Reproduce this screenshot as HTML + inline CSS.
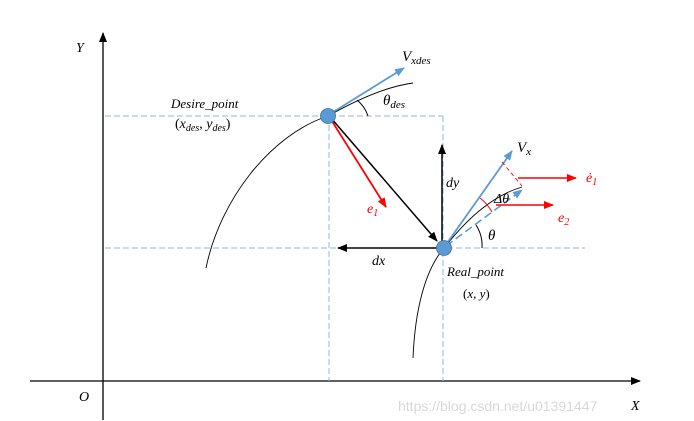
<!DOCTYPE html>
<html><head><meta charset="utf-8"><style>
html,body{margin:0;padding:0;background:#fff;width:694px;height:421px;overflow:hidden}
text{font-family:"Liberation Serif",serif;font-style:italic}
</style></head><body>
<svg width="694" height="421" viewBox="0 0 694 421">
<defs>
<marker id="ak" markerWidth="10" markerHeight="8" refX="9" refY="4" orient="auto" markerUnits="userSpaceOnUse"><path d="M0,0 L10,4 L0,8 z" fill="#000"/></marker>
<marker id="ab" markerWidth="10" markerHeight="8" refX="9" refY="4" orient="auto" markerUnits="userSpaceOnUse"><path d="M0,0 L10,4 L0,8 z" fill="#5b9bd5"/></marker>
<marker id="ar" markerWidth="10" markerHeight="8" refX="9" refY="4" orient="auto" markerUnits="userSpaceOnUse"><path d="M0,0 L10,4 L0,8 z" fill="#f00"/></marker>
</defs>
<!-- axes -->
<line x1="30" y1="381" x2="640" y2="381" stroke="#000" stroke-width="1.3" marker-end="url(#ak)"/>
<line x1="103" y1="420" x2="103" y2="33" stroke="#000" stroke-width="1.3" marker-end="url(#ak)"/>
<text x="76" y="52" font-size="14">Y</text>
<text x="79" y="401" font-size="14">O</text>
<text x="398" y="411" font-size="14" fill="#d8d8d8" style="font-family:'Liberation Sans',sans-serif;font-style:normal">https://blog.csdn.net/u01391447</text>
<text x="631" y="410" font-size="14">X</text>
<!-- dashed guides -->
<g stroke="#8fb8e0" stroke-width="1" stroke-dasharray="6,3" fill="none">
<line x1="105" y1="116" x2="443" y2="116"/>
<line x1="443" y1="116" x2="443" y2="381"/>
<line x1="329" y1="116" x2="329" y2="381"/>
<line x1="105" y1="248" x2="585" y2="248"/>
</g>
<!-- curves -->
<path d="M206,268 C220,200 270,135 328,116 C360,98 390,86 413,83" stroke="#000" fill="none" stroke-width="0.9"/>
<path d="M413,358 C415,310 425,270 444,248 C470,215 495,195 522,187" stroke="#000" fill="none" stroke-width="0.9"/>
<!-- arrows -->
<line x1="330" y1="114" x2="404" y2="68" stroke="#5b9bd5" stroke-width="1.8" marker-end="url(#ab)"/>
<path d="M357,100 A35,35 0 0 1 368,116" stroke="#000" fill="none"/>
<line x1="330" y1="118" x2="386" y2="207" stroke="#f00" stroke-width="1.8" marker-end="url(#ar)"/>
<line x1="331" y1="118" x2="437" y2="241" stroke="#000" stroke-width="1.5" marker-end="url(#ak)"/>
<line x1="442" y1="247" x2="442" y2="145" stroke="#000" stroke-width="1.5" marker-end="url(#ak)"/>
<line x1="438" y1="248" x2="338" y2="248" stroke="#000" stroke-width="1.5" marker-end="url(#ak)"/>
<line x1="445" y1="246" x2="512" y2="151" stroke="#5b9bd5" stroke-width="1.8" marker-end="url(#ab)"/>
<line x1="446" y1="246" x2="522" y2="190" stroke="#5b9bd5" stroke-width="1.6" stroke-dasharray="8,4" marker-end="url(#ab)"/>
<line x1="502" y1="162" x2="522" y2="186" stroke="#f00" stroke-width="0.9" stroke-dasharray="4,3"/>
<path d="M480,198 A45,45 0 0 1 492,212" stroke="#f00" fill="none"/>
<path d="M476,225 A38,38 0 0 1 482,248" stroke="#000" fill="none"/>
<line x1="518" y1="178" x2="576" y2="178" stroke="#f00" stroke-width="1.6" marker-end="url(#ar)"/>
<line x1="496" y1="205" x2="553" y2="205" stroke="#f00" stroke-width="1.6" marker-end="url(#ar)"/>
<!-- points -->
<circle cx="328" cy="116" r="7.5" fill="#5b9bd5" stroke="#41719c" stroke-width="0.8"/>
<circle cx="444" cy="248" r="7.5" fill="#5b9bd5" stroke="#41719c" stroke-width="0.8"/>
<!-- labels -->
<text x="402" y="61" font-size="15">V<tspan font-size="11" dy="3">xdes</tspan></text>
<text x="383" y="105" font-size="15">θ<tspan font-size="11" dy="3">des</tspan></text>
<text x="171" y="108" font-size="13">Desire_point</text>
<text x="175" y="128" font-size="14" style="font-style:normal">(<tspan font-style="italic">x<tspan font-size="10" dy="3">des</tspan></tspan><tspan dy="-3">,  </tspan><tspan font-style="italic">y<tspan font-size="10" dy="3">des</tspan></tspan><tspan dy="-3">)</tspan></text>
<text x="367" y="213" font-size="14" fill="#f00">e<tspan font-size="10" dy="3">1</tspan></text>
<text x="446" y="187" font-size="14">dy</text>
<text x="372" y="265" font-size="14">dx</text>
<text x="517" y="152" font-size="15">V<tspan font-size="11" dy="3">x</tspan></text>
<text x="586" y="182" font-size="14" fill="#f00">ė<tspan font-size="10" dy="3">1</tspan></text>
<text x="494" y="203" font-size="14">Δθ</text>
<text x="558" y="222" font-size="14" fill="#f00">e<tspan font-size="10" dy="3">2</tspan></text>
<text x="488" y="240" font-size="15">θ</text>
<text x="447" y="276" font-size="13">Real_point</text>
<text x="463" y="298" font-size="13" style="font-style:normal">(<tspan font-style="italic">x, y</tspan>)</text>
</svg>
</body></html>
